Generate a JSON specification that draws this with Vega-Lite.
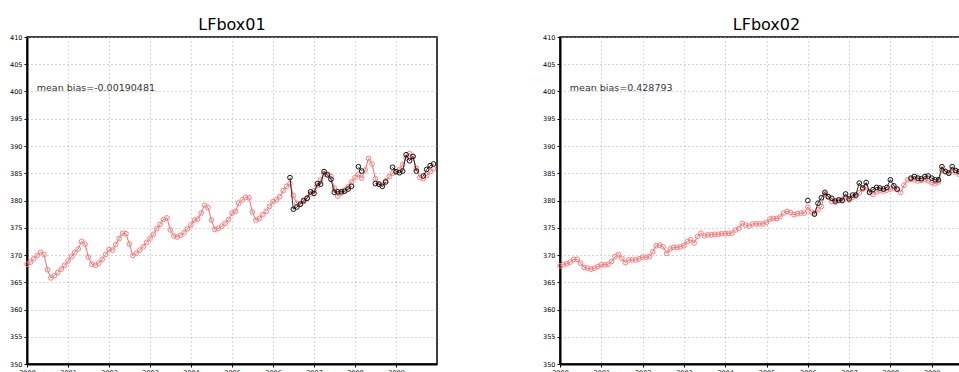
{
"$schema": "https://vega.github.io/schema/vega-lite/v6.json",
"padding": {"left": 8, "top": 16, "right": 0, "bottom": 0},
"spacing": 102,
"background": "#ffffff",
"datasets": {
"b1": [
{"d":"2000-01-01","m":368.3},{"d":"2000-02-01","m":368.7},{"d":"2000-03-01","m":369.3},{"d":"2000-04-01","m":369.9},{"d":"2000-05-01","m":370.5},{"d":"2000-06-01","m":370.1},{"d":"2000-07-01","m":367.3},{"d":"2000-08-01","m":365.8},{"d":"2000-09-01","m":366.2},{"d":"2000-10-01","m":366.8},{"d":"2000-11-01","m":367.4},{"d":"2000-12-01","m":368.1},
{"d":"2001-01-01","m":368.9},{"d":"2001-02-01","m":369.7},{"d":"2001-03-01","m":370.5},{"d":"2001-04-01","m":371.1},{"d":"2001-05-01","m":372.5},{"d":"2001-06-01","m":372.0},{"d":"2001-07-01","m":369.6},{"d":"2001-08-01","m":368.3},{"d":"2001-09-01","m":368.1},{"d":"2001-10-01","m":368.5},{"d":"2001-11-01","m":369.2},{"d":"2001-12-01","m":370.1},
{"d":"2002-01-01","m":371.0},{"d":"2002-02-01","m":370.9},{"d":"2002-03-01","m":371.9},{"d":"2002-04-01","m":373.0},{"d":"2002-05-01","m":374.0},{"d":"2002-06-01","m":373.9},{"d":"2002-07-01","m":372.0},{"d":"2002-08-01","m":369.9},{"d":"2002-09-01","m":370.3},{"d":"2002-10-01","m":370.9},{"d":"2002-11-01","m":371.5},{"d":"2002-12-01","m":372.3},
{"d":"2003-01-01","m":373.1},{"d":"2003-02-01","m":373.8},{"d":"2003-03-01","m":374.8},{"d":"2003-04-01","m":375.6},{"d":"2003-05-01","m":376.5},{"d":"2003-06-01","m":376.8},{"d":"2003-07-01","m":374.6},{"d":"2003-08-01","m":373.5},{"d":"2003-09-01","m":373.3},{"d":"2003-10-01","m":373.6},{"d":"2003-11-01","m":374.1},{"d":"2003-12-01","m":374.8},
{"d":"2004-01-01","m":375.5},{"d":"2004-02-01","m":376.4},{"d":"2004-03-01","m":376.6},{"d":"2004-04-01","m":377.7},{"d":"2004-05-01","m":379.1},{"d":"2004-06-01","m":378.7},{"d":"2004-07-01","m":376.4},{"d":"2004-08-01","m":374.7},{"d":"2004-09-01","m":374.9},{"d":"2004-10-01","m":375.3},{"d":"2004-11-01","m":375.8},{"d":"2004-12-01","m":376.5},
{"d":"2005-01-01","m":377.7},{"d":"2005-02-01","m":378.0},{"d":"2005-03-01","m":379.5},{"d":"2005-04-01","m":380.1},{"d":"2005-05-01","m":380.6},{"d":"2005-06-01","m":380.5},{"d":"2005-07-01","m":377.9},{"d":"2005-08-01","m":376.4},{"d":"2005-09-01","m":376.7},{"d":"2005-10-01","m":377.4},{"d":"2005-11-01","m":378.0},{"d":"2005-12-01","m":378.9},
{"d":"2006-01-01","m":379.8},{"d":"2006-02-01","m":380.1},{"d":"2006-03-01","m":380.7},{"d":"2006-04-01","m":381.8},{"d":"2006-05-01","m":382.6},{"d":"2006-06-01","m":383.1,"o":384.2},{"d":"2006-07-01","m":380.9,"o":378.4},{"d":"2006-08-01","m":379.5,"o":378.8},{"d":"2006-09-01","m":379.4,"o":379.3},{"d":"2006-10-01","m":379.8,"o":380.0},{"d":"2006-11-01","m":380.5,"o":380.4},{"d":"2006-12-01","m":381.2,"o":381.6},
{"d":"2007-01-01","m":381.8,"o":381.3},{"d":"2007-02-01","m":382.7,"o":383.1},{"d":"2007-03-01","m":383.8,"o":383.0},{"d":"2007-04-01","m":384.9,"o":385.3},{"d":"2007-05-01","m":384.8,"o":384.7},{"d":"2007-06-01","m":384.4,"o":383.9},{"d":"2007-07-01","m":382.3,"o":381.5},{"d":"2007-08-01","m":380.8,"o":381.6},{"d":"2007-09-01","m":381.4,"o":381.6},{"d":"2007-10-01","m":381.9,"o":381.7},{"d":"2007-11-01","m":382.5,"o":382.1},{"d":"2007-12-01","m":383.4,"o":382.6},
{"d":"2008-01-01","m":384.2,"o":null},{"d":"2008-02-01","m":384.8,"o":386.2},{"d":"2008-03-01","m":384.1,"o":385.4},{"d":"2008-04-01","m":385.6,"o":null},{"d":"2008-05-01","m":387.7,"o":null},{"d":"2008-06-01","m":386.7,"o":null},{"d":"2008-07-01","m":384.0,"o":383.1},{"d":"2008-08-01","m":383.0,"o":383.0},{"d":"2008-09-01","m":383.0,"o":382.6},{"d":"2008-10-01","m":383.6,"o":383.4},{"d":"2008-11-01","m":384.4,"o":null},{"d":"2008-12-01","m":385.0,"o":386.1},
{"d":"2009-01-01","m":385.2,"o":385.3},{"d":"2009-02-01","m":385.7,"o":385.1},{"d":"2009-03-01","m":386.6,"o":385.4},{"d":"2009-04-01","m":387.8,"o":388.4},{"d":"2009-05-01","m":388.6,"o":387.3},{"d":"2009-06-01","m":388.0,"o":388.1},{"d":"2009-07-01","m":385.9,"o":385.4},{"d":"2009-08-01","m":384.2,"o":null},{"d":"2009-09-01","m":384.0,"o":384.5},{"d":"2009-10-01","m":384.6,"o":385.7},{"d":"2009-11-01","m":385.3,"o":386.4},{"d":"2009-12-01","m":385.8,"o":386.7}
],
"b2": [
{"d":"2000-01-01","m":368.0},{"d":"2000-02-01","m":368.2},{"d":"2000-03-01","m":368.4},{"d":"2000-04-01","m":368.7},{"d":"2000-05-01","m":369.2},{"d":"2000-06-01","m":369.2},{"d":"2000-07-01","m":368.5},{"d":"2000-08-01","m":367.7},{"d":"2000-09-01","m":367.6},{"d":"2000-10-01","m":367.4},{"d":"2000-11-01","m":367.6},{"d":"2000-12-01","m":367.9},
{"d":"2001-01-01","m":368.2},{"d":"2001-02-01","m":368.2},{"d":"2001-03-01","m":368.3},{"d":"2001-04-01","m":368.8},{"d":"2001-05-01","m":369.7},{"d":"2001-06-01","m":370.1},{"d":"2001-07-01","m":369.4},{"d":"2001-08-01","m":368.6},{"d":"2001-09-01","m":369.1},{"d":"2001-10-01","m":369.1},{"d":"2001-11-01","m":369.1},{"d":"2001-12-01","m":369.3},
{"d":"2002-01-01","m":369.6},{"d":"2002-02-01","m":369.6},{"d":"2002-03-01","m":369.7},{"d":"2002-04-01","m":370.6},{"d":"2002-05-01","m":371.7},{"d":"2002-06-01","m":371.8},{"d":"2002-07-01","m":371.5},{"d":"2002-08-01","m":370.3},{"d":"2002-09-01","m":371.1},{"d":"2002-10-01","m":371.4},{"d":"2002-11-01","m":371.4},{"d":"2002-12-01","m":371.5},
{"d":"2003-01-01","m":371.7},{"d":"2003-02-01","m":372.5},{"d":"2003-03-01","m":372.8},{"d":"2003-04-01","m":372.2},{"d":"2003-05-01","m":373.4},{"d":"2003-06-01","m":374.0},{"d":"2003-07-01","m":373.5},{"d":"2003-08-01","m":373.7},{"d":"2003-09-01","m":373.7},{"d":"2003-10-01","m":373.8},{"d":"2003-11-01","m":373.8},{"d":"2003-12-01","m":373.9},
{"d":"2004-01-01","m":373.9},{"d":"2004-02-01","m":374.0},{"d":"2004-03-01","m":374.0},{"d":"2004-04-01","m":374.6},{"d":"2004-05-01","m":374.9},{"d":"2004-06-01","m":375.8},{"d":"2004-07-01","m":375.5},{"d":"2004-08-01","m":375.3},{"d":"2004-09-01","m":375.7},{"d":"2004-10-01","m":375.7},{"d":"2004-11-01","m":375.7},{"d":"2004-12-01","m":375.7},
{"d":"2005-01-01","m":376.0},{"d":"2005-02-01","m":376.6},{"d":"2005-03-01","m":376.7},{"d":"2005-04-01","m":376.7},{"d":"2005-05-01","m":377.0},{"d":"2005-06-01","m":377.7},{"d":"2005-07-01","m":378.0},{"d":"2005-08-01","m":377.8},{"d":"2005-09-01","m":377.4},{"d":"2005-10-01","m":377.6},{"d":"2005-11-01","m":377.7},{"d":"2005-12-01","m":377.7},
{"d":"2006-01-01","m":378.8,"o":380.0},{"d":"2006-02-01","m":377.9,"o":null},{"d":"2006-03-01","m":377.7,"o":377.5},{"d":"2006-04-01","m":378.3,"o":379.5},{"d":"2006-05-01","m":378.9,"o":380.5},{"d":"2006-06-01","m":381.2,"o":381.5},{"d":"2006-07-01","m":380.7,"o":380.7},{"d":"2006-08-01","m":379.8,"o":380.4},{"d":"2006-09-01","m":379.7,"o":379.9},{"d":"2006-10-01","m":380.0,"o":380.1},{"d":"2006-11-01","m":380.2,"o":380.0},{"d":"2006-12-01","m":380.5,"o":381.2},
{"d":"2007-01-01","m":380.1,"o":380.3},{"d":"2007-02-01","m":380.6,"o":381.0},{"d":"2007-03-01","m":380.8,"o":381.0},{"d":"2007-04-01","m":381.4,"o":383.2},{"d":"2007-05-01","m":382.1,"o":382.3},{"d":"2007-06-01","m":382.4,"o":383.3},{"d":"2007-07-01","m":381.6,"o":381.5},{"d":"2007-08-01","m":381.1,"o":382.0},{"d":"2007-09-01","m":381.6,"o":382.4},{"d":"2007-10-01","m":381.8,"o":382.3},{"d":"2007-11-01","m":381.7,"o":382.1},{"d":"2007-12-01","m":381.9,"o":382.4},
{"d":"2008-01-01","m":382.1,"o":383.8},{"d":"2008-02-01","m":382.3,"o":382.7},{"d":"2008-03-01","m":382.0,"o":382.1},{"d":"2008-04-01","m":381.5,"o":null},{"d":"2008-05-01","m":382.8,"o":null},{"d":"2008-06-01","m":383.8,"o":null},{"d":"2008-07-01","m":383.9,"o":384.1},{"d":"2008-08-01","m":383.8,"o":384.4},{"d":"2008-09-01","m":383.6,"o":384.1},{"d":"2008-10-01","m":383.7,"o":384.0},{"d":"2008-11-01","m":383.8,"o":384.4},{"d":"2008-12-01","m":383.6,"o":384.5},
{"d":"2009-01-01","m":383.3,"o":384.1},{"d":"2009-02-01","m":383.1,"o":383.8},{"d":"2009-03-01","m":383.4,"o":383.8},{"d":"2009-04-01","m":385.6,"o":386.2},{"d":"2009-05-01","m":385.4,"o":385.3},{"d":"2009-06-01","m":385.1,"o":385.0},{"d":"2009-07-01","m":385.6,"o":386.2},{"d":"2009-08-01","m":385.2,"o":385.5},{"d":"2009-09-01","m":384.8,"o":385.3},{"d":"2009-10-01","m":384.6,"o":385.6},{"d":"2009-11-01","m":384.5,"o":385.9},{"d":"2009-12-01","m":384.6,"o":386.1}
]
},
"hconcat": [
{
"width": 410, "height": 327,
"title": {"text": "LFbox01"},
"data": {"name": "b1"},
"encoding": {
 "x": {"field": "d", "type": "temporal", "scale": {"type": "utc", "domain": [{"year": 2000, "month": 1, "date": 1, "utc": true}, {"year": 2010, "month": 1, "date": 1, "utc": true}]}, "axis": {"format": "%Y", "formatType": "utc", "values": [{"year": 2000, "utc": true}, {"year": 2001, "utc": true}, {"year": 2002, "utc": true}, {"year": 2003, "utc": true}, {"year": 2004, "utc": true}, {"year": 2005, "utc": true}, {"year": 2006, "utc": true}, {"year": 2007, "utc": true}, {"year": 2008, "utc": true}, {"year": 2009, "utc": true}]}}
},
"layer": [
{"mark": {"type": "line", "color": "#e87070", "strokeWidth": 1},
 "encoding": {"y": {"field": "m", "type": "quantitative", "scale": {"domain": [350, 410]}, "axis": {"values": [350,355,360,365,370,375,380,385,390,395,400,405,410]}}}},
{"mark": {"type": "point", "shape": "circle", "filled": false, "color": "#ff7a7a", "size": 22, "strokeWidth": 1, "opacity": 1},
 "encoding": {"y": {"field": "m", "type": "quantitative", "axis": {"values": [350,355,360,365,370,375,380,385,390,395,400,405,410]}}}},
{"mark": {"type": "line", "color": "#000000", "strokeWidth": 0.8},
 "encoding": {"y": {"field": "o", "type": "quantitative", "axis": {"values": [350,355,360,365,370,375,380,385,390,395,400,405,410]}}}},
{"mark": {"type": "point", "shape": "circle", "filled": false, "color": "#111111", "size": 22, "strokeWidth": 1, "opacity": 1},
 "encoding": {"y": {"field": "o", "type": "quantitative", "axis": {"values": [350,355,360,365,370,375,380,385,390,395,400,405,410]}}}},
{"data": {"values": [{"d": "2000-03-28", "v": 400.6, "t": "mean bias=-0.00190481"}]},
 "mark": {"type": "text", "align": "left", "baseline": "middle", "fontSize": 9.5, "font": "DejaVu Sans", "color": "#333333"},
 "encoding": {"y": {"field": "v", "type": "quantitative", "axis": {"values": [350,355,360,365,370,375,380,385,390,395,400,405,410]}}, "text": {"field": "t"}}}
]
},
{
"width": 413, "height": 327,
"title": {"text": "LFbox02"},
"data": {"name": "b2"},
"encoding": {
 "x": {"field": "d", "type": "temporal", "scale": {"type": "utc", "domain": [{"year": 2000, "month": 1, "date": 1, "utc": true}, {"year": 2010, "month": 1, "date": 1, "utc": true}]}, "axis": {"format": "%Y", "formatType": "utc", "values": [{"year": 2000, "utc": true}, {"year": 2001, "utc": true}, {"year": 2002, "utc": true}, {"year": 2003, "utc": true}, {"year": 2004, "utc": true}, {"year": 2005, "utc": true}, {"year": 2006, "utc": true}, {"year": 2007, "utc": true}, {"year": 2008, "utc": true}, {"year": 2009, "utc": true}]}}
},
"layer": [
{"mark": {"type": "line", "color": "#e87070", "strokeWidth": 1},
 "encoding": {"y": {"field": "m", "type": "quantitative", "scale": {"domain": [350, 410]}, "axis": {"values": [350,355,360,365,370,375,380,385,390,395,400,405,410]}}}},
{"mark": {"type": "point", "shape": "circle", "filled": false, "color": "#ff7a7a", "size": 22, "strokeWidth": 1, "opacity": 1},
 "encoding": {"y": {"field": "m", "type": "quantitative", "axis": {"values": [350,355,360,365,370,375,380,385,390,395,400,405,410]}}}},
{"mark": {"type": "line", "color": "#000000", "strokeWidth": 0.8},
 "encoding": {"y": {"field": "o", "type": "quantitative", "axis": {"values": [350,355,360,365,370,375,380,385,390,395,400,405,410]}}}},
{"mark": {"type": "point", "shape": "circle", "filled": false, "color": "#111111", "size": 22, "strokeWidth": 1, "opacity": 1},
 "encoding": {"y": {"field": "o", "type": "quantitative", "axis": {"values": [350,355,360,365,370,375,380,385,390,395,400,405,410]}}}},
{"data": {"values": [{"d": "2000-03-28", "v": 400.6, "t": "mean bias=0.428793"}]},
 "mark": {"type": "text", "align": "left", "baseline": "middle", "fontSize": 9.5, "font": "DejaVu Sans", "color": "#333333"},
 "encoding": {"y": {"field": "v", "type": "quantitative", "axis": {"values": [350,355,360,365,370,375,380,385,390,395,400,405,410]}}, "text": {"field": "t"}}}
]
}
],
"config": {
"view": {"stroke": "#000000", "strokeWidth": 1.5},
"title": {"font": "DejaVu Sans", "fontSize": 16, "fontWeight": "normal", "color": "#000000", "offset": 1, "anchor": "middle"},
"axis": {"title": null, "labelFont": "DejaVu Sans", "labelFontSize": 6.5, "labelColor": "#000000", "domainColor": "#000000", "domainWidth": 2, "tickColor": "#000000", "tickSize": 3, "labelPadding": 2, "grid": true, "gridColor": "#aaaaaa", "gridDash": [1, 3], "gridWidth": 1, "labelOverlap": false},
"axisX": {"labelFlush": false},
"axisY": {"labelFlush": false}
}
}
